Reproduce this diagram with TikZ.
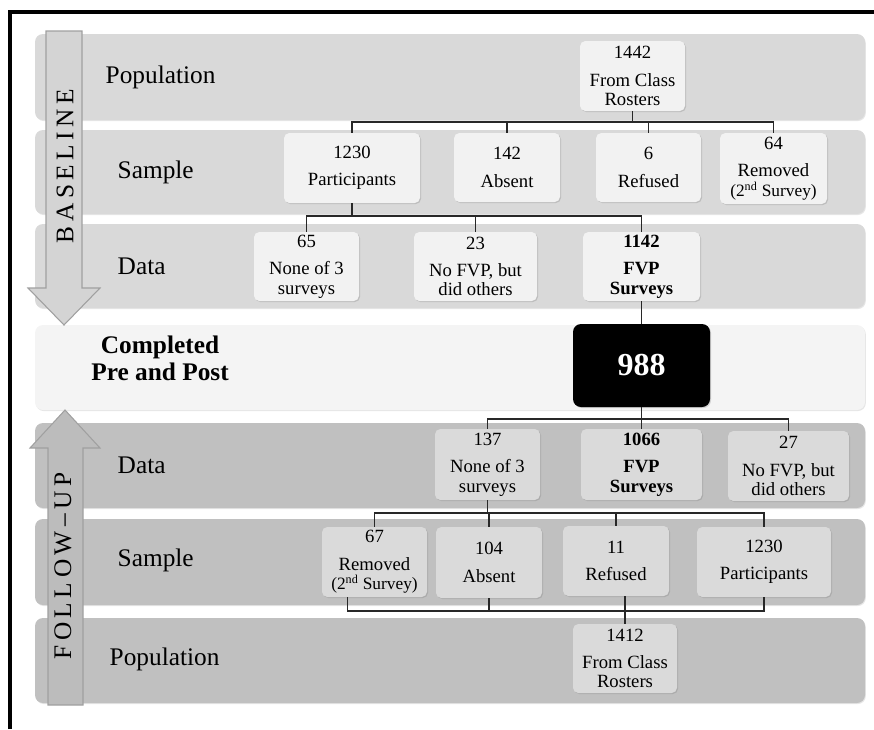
\documentclass[tikz,border=0pt]{standalone}
\usepackage{fontspec}
\setmainfont{Liberation Serif}
\newfontfamily\spacedfont[LetterSpace=18]{Liberation Serif}
\usetikzlibrary{calc,shadows}
\definecolor{bandLight}{RGB}{217,217,217}
\definecolor{bandPale}{RGB}{244,244,244}
\definecolor{bandDark}{RGB}{192,192,192}
\definecolor{boxLight}{RGB}{242,242,242}
\definecolor{boxDark}{RGB}{218,218,218}
\definecolor{arrowLight}{RGB}{212,212,212}
\definecolor{arrowDark}{RGB}{188,188,188}
\definecolor{arrowEdge}{RGB}{160,160,160}
\definecolor{linkGray}{RGB}{40,40,40}

\tikzset{
  band/.style={rounded corners=6pt, drop shadow={opacity=0.2, shadow xshift=0.6pt, shadow yshift=-0.8pt}},
  stagebox/.style={rounded corners=4pt, align=center, inner sep=0pt,
    font=\fontsize{14}{14.5}\selectfont,
    drop shadow={opacity=0.3, shadow xshift=0.8pt, shadow yshift=-0.8pt}},
  box size/.style 2 args={minimum width=#1*0.75pt, minimum height=#2*0.75pt},
  rowlabel/.style={anchor=west, font=\fontsize{19}{20}\selectfont},
  arrowtext/.style={rotate=90, font=\spacedfont\fontsize{19}{19}\selectfont},
  link/.style={draw=linkGray, line width=0.9pt}
}

\begin{document}
\begin{tikzpicture}[x=0.75pt, y=-0.75pt]
  \useasboundingbox (0,0) rectangle (874,729);
  % frame
  \draw[line width=3pt] (10,729) -- (10,12) -- (874,12);
  % bands
  \path[band, fill=bandLight] (35,34) rectangle (865,120);
  \path[band, fill=bandLight] (35,130) rectangle (865,214);
  \path[band, fill=bandLight] (35,224) rectangle (865,308);
  \path[band, fill=bandPale] (35,325) rectangle (865,410);
  \path[band, fill=bandDark] (35,423) rectangle (865,508);
  \path[band, fill=bandDark] (35,519) rectangle (865,605);
  \path[band, fill=bandDark] (35,618) rectangle (865,703);
  % big arrows
  \draw[arrowEdge, fill=arrowLight, line width=0.8pt]
    (46,31) -- (82,31) -- (82,288) -- (100,288) -- (64,325) -- (28,288) -- (46,288) -- cycle;
  \draw[arrowEdge, fill=arrowDark, line width=0.8pt]
    (48,705) -- (83,705) -- (83,448) -- (100,448) -- (65,410) -- (30,448) -- (48,448) -- cycle;
  \node[arrowtext] (baseTxt) at (65,166) {BASELINE};
  \node[arrowtext] (followTxt) at (63,566) {FOLLOW–UP};
  % row labels
  \node[rowlabel] (popLbl) at (101,77) {Population};
  \node[rowlabel] (sampLbl) at (113,172) {Sample};
  \node[rowlabel] (dataLbl) at (113,266) {Data};
  \node[align=center, font=\bfseries\fontsize{19}{20}\selectfont] (doneLbl) at (160,358) {Completed\\Pre and Post};
  \node[rowlabel] (dataLblF) at (113,465) {Data};
  \node[rowlabel] (sampLblF) at (113,560) {Sample};
  \node[rowlabel] (popLblF) at (105,659) {Population};
  % baseline boxes
  \node[stagebox, fill=boxLight, box size={105}{70}] (roster) at (632.5,76) {1442\\[6pt]From Class\\Rosters};
  \node[stagebox, fill=boxLight, box size={136}{70}] (part) at (352,168) {1230\\[6pt]Participants};
  \node[stagebox, fill=boxLight, box size={106}{69}] (absent) at (507,167.5) {142\\[6pt]Absent};
  \node[stagebox, fill=boxLight, box size={105}{69}] (refused) at (648.5,167.5) {6\\[6pt]Refused};
  \node[stagebox, fill=boxLight, box size={107}{71}] (removed) at (773.5,168.5) {64\\[6pt]Removed\\{\fontsize{13}{15}\selectfont(2\textsuperscript{nd} Survey)}};
  \node[stagebox, fill=boxLight, box size={105}{69}] (none) at (306.5,266.5) {65\\[6pt]None of 3\\surveys};
  \node[stagebox, fill=boxLight, box size={123}{69}] (nofvp) at (475.5,266.5) {23\\[6pt]No FVP, but\\did others};
  \node[stagebox, fill=boxLight, box size={117}{69}] (fvp) at (641.5,266.5) {\textbf{1142}\\[6pt]\textbf{FVP}\\\textbf{Surveys}};
  % completed both
  \node[stagebox, rounded corners=6pt, fill=black, text=white, box size={137}{83},
    font=\bfseries\fontsize{24}{24}\selectfont] (total) at (641.5,365.5) {988};
  % follow-up boxes
  \node[stagebox, fill=boxDark, box size={105}{71}] (noneF) at (487.5,464.5) {137\\[6pt]None of 3\\surveys};
  \node[stagebox, fill=boxDark, box size={121}{71}] (fvpF) at (641.5,464.5) {\textbf{1066}\\[6pt]\textbf{FVP}\\\textbf{Surveys}};
  \node[stagebox, fill=boxDark, box size={121}{70}] (nofvpF) at (788.5,466) {27\\[6pt]No FVP, but\\did others};
  \node[stagebox, fill=boxDark, box size={105}{70}] (removedF) at (374.5,562) {67\\[6pt]Removed\\{\fontsize{13}{15}\selectfont(2\textsuperscript{nd} Survey)}};
  \node[stagebox, fill=boxDark, box size={106}{71}] (absentF) at (489,562.5) {104\\[6pt]Absent};
  \node[stagebox, fill=boxDark, box size={106}{70}] (refusedF) at (616,561) {11\\[6pt]Refused};
  \node[stagebox, fill=boxDark, box size={134}{70}] (partF) at (764,562) {1230\\[6pt]Participants};
  \node[stagebox, fill=boxDark, box size={104}{69}] (rosterF) at (625,658.5) {1412\\[6pt]From Class\\Rosters};
  % baseline tree
  \coordinate (barA) at (0,122);
  \draw[link] (roster.south) -- (roster.south |- barA);
  \draw[link] (part.north) -- (part.north |- barA) -- (removed.north |- barA) -- (removed.north);
  \draw[link] (absent.north) -- (absent.north |- barA);
  \draw[link] (refused.north) -- (refused.north |- barA);
  \coordinate (barB) at (0,216);
  \draw[link] (part.south) -- (part.south |- barB);
  \draw[link] (none.north) -- (none.north |- barB) -- (fvp.north |- barB) -- (fvp.north);
  \draw[link] (nofvp.north) -- (nofvp.north |- barB);
  \draw[link] (fvp.south) -- (total.north);
  % follow-up tree
  \coordinate (barC) at (0,419);
  \draw[link] (total.south) -- (total.south |- barC);
  \draw[link] (noneF.north) -- (noneF.north |- barC) -- (nofvpF.north |- barC) -- (nofvpF.north);
  \draw[link] (fvpF.north) -- (fvpF.north |- barC);
  \coordinate (barD) at (0,513);
  \draw[link] (noneF.south) -- (noneF.south |- barD);
  \draw[link] (removedF.north) -- (removedF.north |- barD) -- (partF.north |- barD) -- (partF.north);
  \draw[link] (absentF.north) -- (absentF.north |- barD);
  \draw[link] (refusedF.north) -- (refusedF.north |- barD);
  \coordinate (barE) at (0,611);
  \coordinate (remFoot) at ($(removedF.south)+(-27,0)$);
  \draw[link] (remFoot) -- (remFoot |- barE) -- (partF.south |- barE) -- (partF.south);
  \draw[link] (absentF.south) -- (absentF.south |- barE);
  \draw[link] (refusedF.south -| rosterF.north) -- (rosterF.north);
\end{tikzpicture}
\end{document}
